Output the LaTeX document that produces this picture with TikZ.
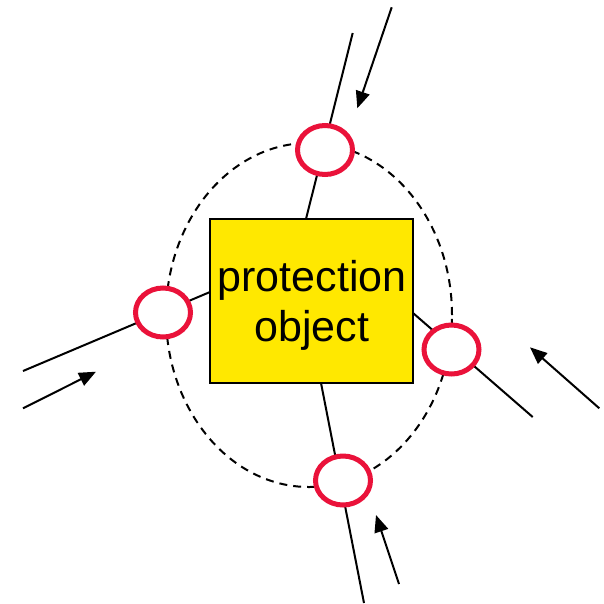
\documentclass[tikz,border=0pt]{standalone}
\usepackage{fontspec}
\setmainfont{Liberation Sans}
\usetikzlibrary{arrows.meta,shapes.geometric}
\definecolor{ringred}{RGB}{234,18,58}
\definecolor{boxyellow}{RGB}{255,232,0}
\begin{document}
\begin{tikzpicture}[x=1pt,y=-1pt,
  wire/.style={black,line width=2pt},
  flow/.style={black,line width=2pt,-{Triangle[length=17pt,width=14pt]}},
  ring/.style={ellipse,draw=ringred,fill=white,line width=5pt,minimum width=55pt,minimum height=49pt,inner sep=0pt},
  objbox/.style={draw=black,line width=1.6pt,fill=boxyellow,minimum width=203pt,minimum height=164pt,inner sep=0pt},
  objtext/.style={inner sep=0pt,align=center,font=\fontsize{43}{50}\selectfont}
]
\useasboundingbox (0,0) rectangle (604,603);
% wires
\coordinate (tA) at (352.7,33);   \coordinate (tB) at (306,219);
\coordinate (lA) at (23,371);     \coordinate (lB) at (210,292);
\coordinate (rA) at (532.7,417);  \coordinate (rB) at (413,313);
\coordinate (bA) at (364,603);    \coordinate (bB) at (321,383);
\draw[wire] (tA) -- (tB);
\draw[wire] (lA) -- (lB);
\draw[wire] (rA) -- (rB);
\draw[wire] (bA) -- (bB);
% dashed boundary
\node[ellipse,draw=black,line width=2pt,dash pattern=on 8pt off 6pt,minimum width=286pt,minimum height=344pt,inner sep=0pt] (bound) at (309,315) {};
% protection object
\node[objbox] (obj) at (311.5,301) {};
\node[objtext] (objlabel) at (312,305) {protection\\object};
% rings
\node[ring] (ringT) at (325,150) {};
\node[ring] (ringL) at (163,312.5) {};
\node[ring] (ringR) at (451.5,349.5) {};
\node[ring] (ringB) at (343,480.5) {};
% attack arrows
\coordinate (aT0) at (391.7,7.3);  \coordinate (aT1) at (357.3,108.3);
\coordinate (aL0) at (23,408.3);   \coordinate (aL1) at (96,371.7);
\coordinate (aR0) at (599.3,408.3); \coordinate (aR1) at (530,347.3);
\coordinate (aB0) at (399,584);    \coordinate (aB1) at (376,515);
\draw[flow] (aT0) -- (aT1);
\draw[flow] (aL0) -- (aL1);
\draw[flow] (aR0) -- (aR1);
\draw[flow] (aB0) -- (aB1);
\end{tikzpicture}
\end{document}
